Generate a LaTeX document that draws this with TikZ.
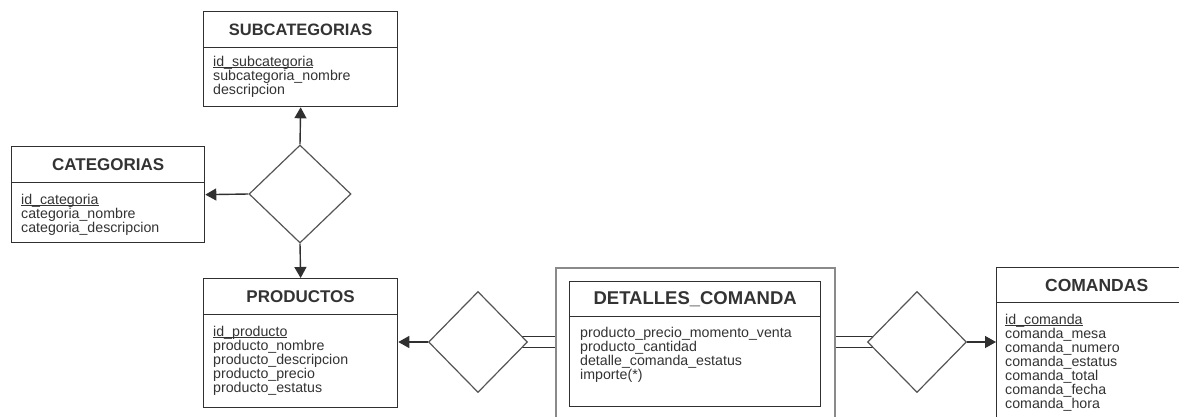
\documentclass[tikz,border=0pt]{standalone}
\usepackage{fontspec}
\setmainfont{Liberation Sans}
\usetikzlibrary{shapes.geometric,arrows.meta,backgrounds}
\definecolor{ink}{HTML}{303030}
\definecolor{txt}{HTML}{333333}
\definecolor{framegray}{HTML}{8A8A8A}
\definecolor{relgray}{HTML}{555555}
\newcommand\pkline[1]{\setbox0\hbox{#1}\rlap{\rule[-1.8pt]{\wd0}{0.7pt}}\box0}
\begin{document}
\begin{tikzpicture}[x=1pt,y=-1pt,
  ebox/.style={draw=ink, line width=1.3pt, fill=white, inner sep=0pt, anchor=north west},
  etitle/.style={draw=ink, line width=1.3pt, inner sep=0pt, anchor=north west,
     font=\fontsize{17}{19}\selectfont\bfseries, text=txt},
  eattr/.style={inner sep=0pt, anchor=north west, align=left,
     font=\fontsize{14.2}{14}\selectfont, text=txt},
  outerbox/.style={draw=framegray, line width=2pt, inner sep=0pt, anchor=north west},
  rel/.style={draw=relgray, line width=1.2pt, fill=white, shape=diamond, inner sep=0pt},
  conn/.style={draw=ink, line width=1.4pt},
  arr/.style={conn, -{Triangle[length=11pt,width=12pt]}},
  dbl/.style={draw=ink, line width=1.3pt, double=white, double distance=10.3pt}
]
\useasboundingbox (0,0) rectangle (1179,416);
\clip (0,0) rectangle (1179,416);

% SUBCATEGORIAS
\node[ebox, minimum width=194pt, minimum height=95pt] (sub) at (203,11) {};
\node[etitle, minimum width=194pt, minimum height=36pt, font=\fontsize{16.5}{18}\selectfont\bfseries] (subT) at (sub.north west) {SUBCATEGORIAS};
\node[eattr] (subA) at (213,55) {\rule{0pt}{11pt}\pkline{id\_subcategoria}\\subcategoria\_nombre\\descripcion};

% CATEGORIAS
\node[ebox, minimum width=193pt, minimum height=96pt] (cat) at (11,146) {};
\node[etitle, minimum width=193pt, minimum height=36pt] (catT) at (cat.north west) {CATEGORIAS};
\node[eattr] (catA) at (21,193) {\rule{0pt}{11pt}\pkline{id\_categoria}\\categoria\_nombre\\categoria\_descripcion};

% PRODUCTOS
\node[ebox, minimum width=194pt, minimum height=129pt] (prod) at (203,278) {};
\node[etitle, minimum width=194pt, minimum height=36pt] (prodT) at (prod.north west) {PRODUCTOS};
\node[eattr] (prodA) at (213,325) {\rule{0pt}{11pt}\pkline{id\_producto}\\producto\_nombre\\producto\_descripcion\\producto\_precio\\producto\_estatus};

% DETALLES_COMANDA (weak entity)
\node[outerbox, minimum width=279pt, minimum height=175pt] (detO) at (555,267) {};
\node[ebox, minimum width=251pt, minimum height=125pt] (det) at (569,281) {};
\node[etitle, minimum width=251pt, minimum height=35pt, font=\fontsize{18.5}{20}\selectfont\bfseries] (detT) at (det.north west) {DETALLES\_COMANDA};
\node[eattr] (detA) at (580,326) {\rule{0pt}{11pt}producto\_precio\_momento\_venta\\producto\_cantidad\\detalle\_comanda\_estatus\\importe(*)};

% COMANDAS
\node[ebox, minimum width=200pt, minimum height=175pt] (com) at (996,267) {};
\node[etitle, minimum width=200pt, minimum height=35pt, font=\fontsize{17.5}{19}\selectfont\bfseries] (comT) at (com.north west) {COMANDAS};
\node[eattr] (comA) at (1005,313) {\rule{0pt}{11pt}\pkline{id\_comanda}\\comanda\_mesa\\comanda\_numero\\comanda\_estatus\\comanda\_total\\comanda\_fecha\\comanda\_hora};

% Relationships
\node[rel, minimum width=102pt, minimum height=98pt] (r1) at (300,194) {};
\node[rel, minimum width=99pt, minimum height=101pt] (r2) at (478,342) {};
\node[rel, minimum width=99pt, minimum height=101pt] (r3) at (917,342) {};

\begin{scope}[on background layer]
  \draw[arr] (r1.north) -- (sub.south);
  \draw[arr] (r1.west) -- (cat.east);
  \draw[arr] (r1.south) -- (prod.north);
  \draw[arr] (r2.west) -- (r2.west -| prod.east);
  \draw[dbl] (r2.center) -- (r2.center -| detO.west);
  \draw[dbl] (r3.center -| detO.east) -- (r3.center);
  \draw[arr] (r3.east) -- (r3.east -| com.west);
\end{scope}
\end{tikzpicture}
\end{document}
